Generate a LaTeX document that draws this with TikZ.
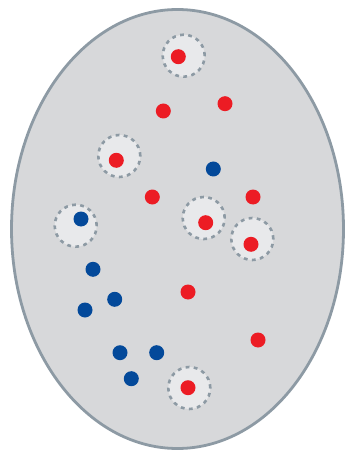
\documentclass[tikz,border=0pt]{standalone}
\definecolor{shell}{HTML}{D7D8DA}
\definecolor{rim}{HTML}{8D9AA4}
\definecolor{halofill}{HTML}{E8E9EB}
\definecolor{dotred}{HTML}{EC1C24}
\definecolor{dotblue}{HTML}{03499A}

\begin{document}
\begin{tikzpicture}[x=1pt,y=-1pt]
			\tikzstyle{halo} = [circle,fill=halofill,draw=rim,line width=2.6pt,dash pattern=on 3.8pt off 4.4pt,minimum size=42pt,inner sep=0pt];
			\tikzstyle{reddot} = [circle,fill=dotred,minimum size=15pt,inner sep=0pt];
			\tikzstyle{bluedot} = [circle,fill=dotblue,minimum size=15pt,inner sep=0pt];
			\useasboundingbox (0,0) rectangle (348,454);
			\draw[rim,fill=shell,line width=2.8pt] (177.5,229) ellipse [x radius=166, y radius=219.5];
			% halos
			\node[halo] (h1) at (183.7,55.7) {};
			\node[halo] (h2) at (119.3,156.0) {};
			\node[halo] (h3) at (75.7,225.7) {};
			\node[halo] (h4) at (203.7,218.0) {};
			\node[halo] (h5) at (252.3,239.0) {};
			\node[halo] (h6) at (189.3,388.0) {};
			% red dots
			\node[reddot] (r1) at (178.3,56.7) {};
			\node[reddot] (r2) at (163.3,111.0) {};
			\node[reddot] (r3) at (225.0,103.7) {};
			\node[reddot] (r4) at (116.3,160.3) {};
			\node[reddot] (r5) at (152.3,197.0) {};
			\node[reddot] (r6) at (253.0,197.0) {};
			\node[reddot] (r7) at (205.7,222.7) {};
			\node[reddot] (r8) at (251.0,244.3) {};
			\node[reddot] (r9) at (188.0,292.0) {};
			\node[reddot] (r10) at (258.0,340.0) {};
			\node[reddot] (r11) at (188.0,387.7) {};
			% blue dots
			\node[bluedot] (b1) at (213.3,169.0) {};
			\node[bluedot] (b2) at (81.0,219.0) {};
			\node[bluedot] (b3) at (93.0,269.3) {};
			\node[bluedot] (b4) at (114.7,299.3) {};
			\node[bluedot] (b5) at (85.0,310.0) {};
			\node[bluedot] (b6) at (120.0,352.7) {};
			\node[bluedot] (b7) at (156.7,352.7) {};
			\node[bluedot] (b8) at (131.3,378.7) {};
		\end{tikzpicture}
\end{document}
